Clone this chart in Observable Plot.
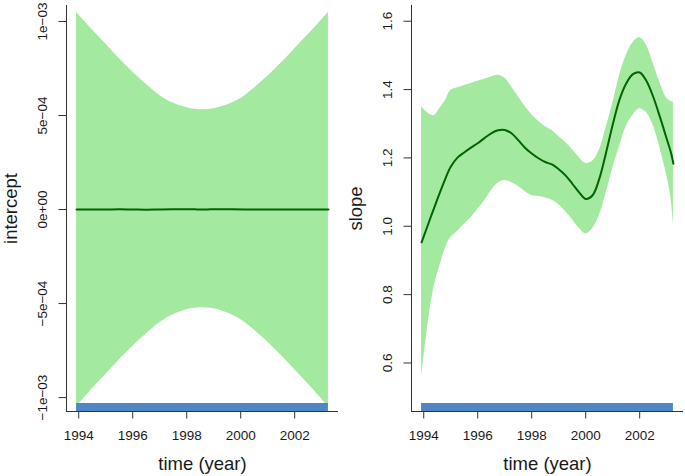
<!DOCTYPE html>
<html><head><meta charset="utf-8">
<script src="https://cdn.jsdelivr.net/npm/d3@7"></script>
<script src="https://cdn.jsdelivr.net/npm/@observablehq/plot@0.6"></script>
<style>
html,body{margin:0;padding:0;background:#fff;}
#wrap{display:flex;width:685px;height:476px;overflow:hidden;}
#wrap svg{display:block;flex:none;}
</style></head><body><div id="wrap"></div>
<script>
// ---------- data ----------
const yearTicks = [1994, 1996, 1998, 2000, 2002];
const yearTickLabels = ["1994", "1996", "1998", "2000", "2002"];

const interceptTime = [1993.92, 1994.25, 1994.5, 1995, 1995.5, 1996, 1996.5, 1997, 1997.5, 1998, 1998.3, 1998.585, 1998.87, 1999.17, 1999.67, 2000.17, 2000.67, 2001.17, 2001.67, 2002.17, 2002.67, 2002.92, 2003.25];
const interceptUpper = [1.048e-3, 9.96e-4, 9.56e-4, 8.80e-4, 8.03e-4, 7.32e-4, 6.66e-4, 6.07e-4, 5.66e-4, 5.41e-4, 5.33e-4, 5.30e-4, 5.33e-4, 5.41e-4, 5.66e-4, 6.07e-4, 6.66e-4, 7.32e-4, 8.03e-4, 8.80e-4, 9.56e-4, 9.96e-4, 1.048e-3];
const interceptLower = [-1.048e-3, -9.95e-4, -9.54e-4, -8.77e-4, -8.00e-4, -7.28e-4, -6.62e-4, -6.02e-4, -5.60e-4, -5.33e-4, -5.25e-4, -5.22e-4, -5.25e-4, -5.33e-4, -5.60e-4, -6.02e-4, -6.62e-4, -7.28e-4, -8.00e-4, -8.77e-4, -9.54e-4, -9.95e-4, -1.048e-3];
const interceptMean = [0, 0, 0, 0, 1e-6, 0, -1e-6, 0, 1e-6, 2e-6, 1e-6, 0, 1e-6, 2e-6, 1e-6, 0, 0, 0, 0, 0, 0, 0, 0];
const interceptTicks = [-1e-3, -5e-4, 0, 5e-4, 1e-3];
const interceptTickLabels = ["\u22121e\u221203", "\u22125e\u221204", "0e+00", "5e\u221204", "1e\u221203"];
const interceptDomain = [-1.074e-3, 1.085e-3];

const slopeTime = [1993.92, 1994.1, 1994.25, 1994.4, 1994.6, 1994.8, 1995.0, 1995.25, 1995.5, 1995.75, 1996.0, 1996.25, 1996.5, 1996.75, 1997.0, 1997.25, 1997.5, 1997.75, 1998.0, 1998.25, 1998.5, 1998.75, 1999.0, 1999.25, 1999.5, 1999.75, 2000.0, 2000.25, 2000.5, 2000.75, 2001.0, 2001.25, 2001.5, 2001.75, 2002.0, 2002.25, 2002.5, 2002.75, 2003.0, 2003.15, 2003.25];
const slopeMean = [0.953, 0.992, 1.025, 1.057, 1.099, 1.139, 1.174, 1.201, 1.216, 1.230, 1.243, 1.258, 1.272, 1.281, 1.282, 1.272, 1.252, 1.230, 1.213, 1.199, 1.188, 1.181, 1.167, 1.149, 1.125, 1.100, 1.080, 1.090, 1.138, 1.214, 1.297, 1.370, 1.418, 1.445, 1.450, 1.425, 1.379, 1.320, 1.256, 1.218, 1.183];
const slopeUpper = [1.350, 1.335, 1.326, 1.324, 1.345, 1.367, 1.397, 1.405, 1.412, 1.418, 1.424, 1.430, 1.437, 1.442, 1.434, 1.408, 1.380, 1.351, 1.327, 1.307, 1.292, 1.280, 1.263, 1.246, 1.225, 1.203, 1.184, 1.190, 1.222, 1.287, 1.359, 1.440, 1.500, 1.537, 1.552, 1.530, 1.477, 1.420, 1.375, 1.366, 1.363];
const slopeLower = [0.558, 0.677, 0.765, 0.828, 0.885, 0.935, 0.967, 0.985, 1.006, 1.025, 1.050, 1.074, 1.104, 1.126, 1.134, 1.128, 1.117, 1.102, 1.090, 1.087, 1.083, 1.077, 1.064, 1.043, 1.020, 0.995, 0.978, 0.993, 1.030, 1.095, 1.169, 1.233, 1.292, 1.325, 1.344, 1.333, 1.295, 1.230, 1.150, 1.087, 1.007];
const slopeTicks = [0.6, 0.8, 1.0, 1.2, 1.4, 1.6];
const slopeTickLabels = ["0.6", "0.8", "1.0", "1.2", "1.4", "1.6"];
const slopeDomain = [0.458, 1.646];

const xDomain = [1993.547, 2003.623];

// ---------- drawing ----------
const FONT = "'Liberation Sans', Arial, Helvetica, sans-serif";
const BAND = "#a4e9a0", LINE = "#006400", BAR = "#4f86c4", INK = "#1a1a1a", AXIS = "#333";

function panel({width, marginLeft, marginRight, time, mean, lower, upper, yDomain, yTicks, yTickLabels, yLabel}) {
  const rows = time.map((t, i) => ({t, m: mean[i], lo: lower[i], hi: upper[i]}));
  const plotH = 476 - 5 - 65;
  const bar = [{x1: time[0], x2: time[time.length - 1], y1: yDomain[0], y2: yDomain[0] + (yDomain[1] - yDomain[0]) * 8 / plotH}];
  return Plot.plot({
    width, height: 476, marginLeft, marginRight, marginTop: 5, marginBottom: 65,
    style: {fontFamily: FONT, fontSize: "13.5px", color: INK, background: "white", overflow: "visible"},
    x: {domain: xDomain},
    y: {domain: yDomain},
    marks: [
      Plot.areaY(rows, {x: "t", y1: "lo", y2: "hi", fill: BAND, curve: "catmull-rom"}),
      Plot.lineY(rows, {x: "t", y: "m", stroke: LINE, strokeWidth: 2, curve: "catmull-rom"}),
      Plot.rect(bar, {x1: "x1", x2: "x2", y1: "y1", y2: "y2", fill: BAR}),
      Plot.ruleX([xDomain[0]], {stroke: AXIS}),
      Plot.ruleY([yDomain[0]], {stroke: AXIS}),
      Plot.axisX(yearTicks, {tickSize: 7.5, tickPadding: 11.5, stroke: AXIS, label: null,
        tickFormat: d => yearTickLabels[yearTicks.indexOf(d)]}),
      Plot.axisY(yTicks, {tickSize: 7.5, tickPadding: 12, tickRotate: -90, stroke: AXIS, label: null,
        tickFormat: d => yTickLabels[yTicks.indexOf(d)]}),
      Plot.axisX([], {tickSize: 0, label: "time (year)", labelAnchor: "center", labelOffset: 58, labelArrow: false, fontSize: 18.5}),
      Plot.axisY([], {tickSize: 0, label: yLabel, labelAnchor: "center", labelOffset: 63, labelArrow: false, fontSize: 18.5})
    ]
  });
}

const wrap = document.getElementById("wrap");
wrap.append(panel({width: 342, marginLeft: 66, marginRight: 4, time: interceptTime, mean: interceptMean,
  lower: interceptLower, upper: interceptUpper, yDomain: interceptDomain, yTicks: interceptTicks,
  yTickLabels: interceptTickLabels, yLabel: "intercept"}));
wrap.append(panel({width: 343, marginLeft: 69, marginRight: 2, time: slopeTime, mean: slopeMean,
  lower: slopeLower, upper: slopeUpper, yDomain: slopeDomain, yTicks: slopeTicks,
  yTickLabels: slopeTickLabels, yLabel: "slope"}));
</script></body></html>
